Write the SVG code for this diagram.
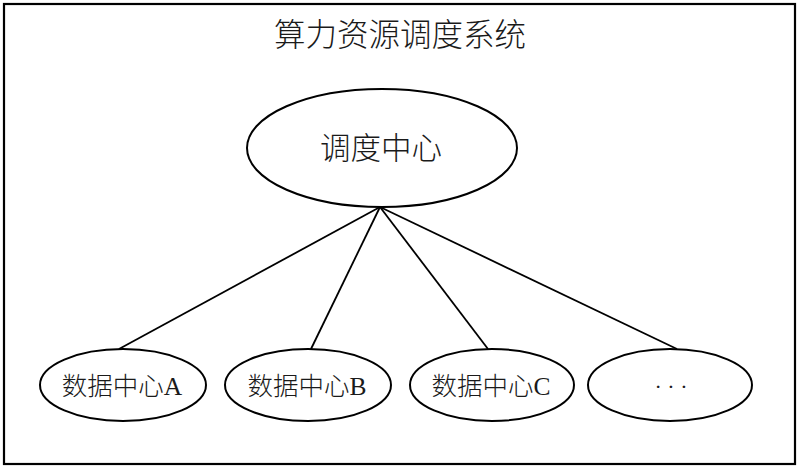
<svg xmlns="http://www.w3.org/2000/svg" width="800" height="468" viewBox="0 0 800 468">
<style>
.frame{fill:#fff;stroke:#000;stroke-width:2.2}
.node{fill:#fff;stroke:#000;stroke-width:2}
.edge{stroke:#000;stroke-width:1.8;fill:none}
text{font-family:"Liberation Serif","Noto Sans CJK SC",serif;fill:#1a1a1a;text-anchor:middle;font-weight:300}
.title{font-size:31.5px}
.big{font-size:30.5px}
.small{font-size:25.5px}
.dots{font-size:22px}
</style>
<rect x="0" y="0" width="800" height="468" fill="#fff"/>
<rect class="frame" x="4" y="4" width="791" height="460"/>
<text class="title" x="400" y="46">算力资源调度系统</text>
<g id="connectors">
<line class="edge" x1="380" y1="207" x2="119" y2="349"/>
<line class="edge" x1="380" y1="207" x2="311" y2="349"/>
<line class="edge" x1="380" y1="207" x2="488" y2="349"/>
<line class="edge" x1="380" y1="207" x2="677" y2="349"/>
</g>
<g id="dispatch-center">
<ellipse class="node" cx="382" cy="148" rx="135" ry="59"/>
<text class="big" x="381" y="159">调度中心</text>
</g>
<g id="dc-a">
<ellipse class="node" cx="123" cy="385" rx="83" ry="36"/>
<text class="small" x="122" y="395">数据中心A</text>
</g>
<g id="dc-b">
<ellipse class="node" cx="308" cy="385" rx="83" ry="36"/>
<text class="small" x="307" y="395">数据中心B</text>
</g>
<g id="dc-c">
<ellipse class="node" cx="492" cy="385" rx="82" ry="36"/>
<text class="small" x="491" y="395">数据中心C</text>
</g>
<g id="dc-more">
<ellipse class="node" cx="670" cy="385" rx="82" ry="36"/>
<text class="dots" x="671" y="394">· · ·</text>
</g>
</svg>
